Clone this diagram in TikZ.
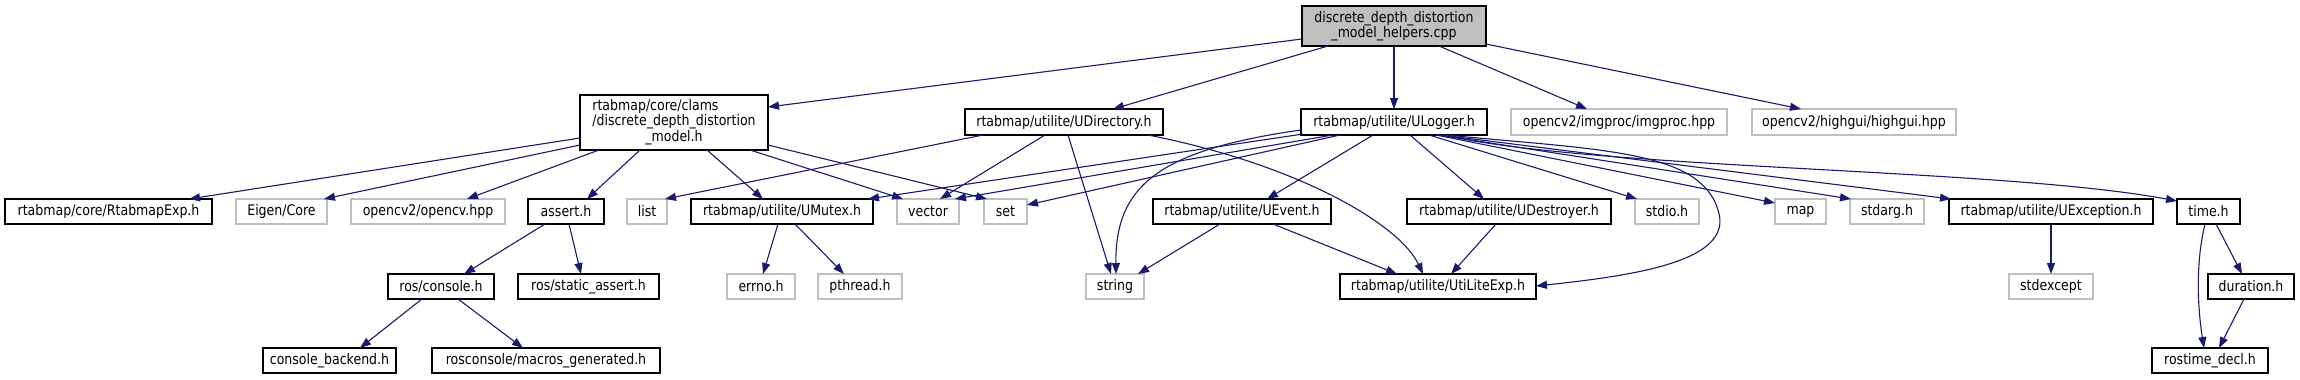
\documentclass[tikz,border=0pt]{standalone}
\usepackage{fontspec}
\newfontfamily\dfont{DejaVu Sans}[FakeStretch=0.86]
\usetikzlibrary{arrows.meta,calc}
\definecolor{navy}{HTML}{191970}
\definecolor{gry}{HTML}{BFBFBF}
\tikzset{
  box/.style={anchor=north west, draw=black, fill=white, line width=1.2pt, inner sep=0pt, outer sep=0pt,
    font=\dfont\fontsize{14.6}{15}\selectfont, text=black, align=center},
  ext/.style={box, draw=gry},
  dep/.style={draw=navy, line width=1.1pt, -{Triangle[length=11pt,width=8pt]}}
}
\begin{document}
\begin{tikzpicture}[x=1pt,y=-1pt]
\useasboundingbox[fill=white] (0,0) rectangle (2300,380);
% top
\node[box, fill=gry, minimum width=184pt, minimum height=40pt] (T) at (1302,6) {discrete\_depth\_distortion\\\_model\_helpers.cpp};
% row 1
\node[box, minimum width=188pt, minimum height=55pt, align=none] (C) at (580,95) {\begin{tabular}{@{}l@{}}rtabmap/core/clams\\/discrete\_depth\_distortion\\\multicolumn{1}{@{}c@{}}{\_model.h}\end{tabular}};
\node[box, minimum width=198pt, minimum height=26pt] (D) at (965,109) {rtabmap/utilite/UDirectory.h};
\node[box, minimum width=186pt, minimum height=26pt] (L) at (1301,109) {rtabmap/utilite/ULogger.h};
\node[ext, minimum width=216pt, minimum height=26pt] (IP) at (1511,109) {opencv2/imgproc/imgproc.hpp};
\node[ext, minimum width=204pt, minimum height=26pt] (HG) at (1752,109) {opencv2/highgui/highgui.hpp};
% row 2
\node[box, minimum width=207pt, minimum height=25pt] (RE) at (5,199) {rtabmap/core/RtabmapExp.h};
\node[ext, minimum width=91pt, minimum height=25pt] (EC) at (236,199) {Eigen/Core};
\node[ext, minimum width=154pt, minimum height=25pt] (OC) at (351,199) {opencv2/opencv.hpp};
\node[box, minimum width=76pt, minimum height=25pt] (AS) at (528,199) {assert.h};
\node[ext, minimum width=40pt, minimum height=25pt] (LI) at (627,199) {list};
\node[box, minimum width=182pt, minimum height=25pt] (UM) at (691,199) {rtabmap/utilite/UMutex.h};
\node[ext, minimum width=62pt, minimum height=25pt] (VE) at (897,199) {vector};
\node[ext, minimum width=43pt, minimum height=25pt] (SE) at (984,199) {set};
\node[box, minimum width=178pt, minimum height=25pt] (UE) at (1153,199) {rtabmap/utilite/UEvent.h};
\node[box, minimum width=204pt, minimum height=25pt] (UD) at (1407,199) {rtabmap/utilite/UDestroyer.h};
\node[ext, minimum width=64pt, minimum height=25pt] (SI) at (1635,199) {stdio.h};
\node[ext, minimum width=51pt, minimum height=25pt] (MA) at (1775,199) {map};
\node[ext, minimum width=74pt, minimum height=25pt] (SA) at (1850,199) {stdarg.h};
\node[box, minimum width=204pt, minimum height=25pt] (UX) at (1949,199) {rtabmap/utilite/UException.h};
\node[box, minimum width=63pt, minimum height=25pt] (TI) at (2177,199) {time.h};
% row 3
\node[box, minimum width=106pt, minimum height=25pt] (RC) at (388,274) {ros/console.h};
\node[box, minimum width=141pt, minimum height=25pt] (RS) at (518,274) {ros/static\_assert.h};
\node[ext, minimum width=68pt, minimum height=25pt] (ER) at (727,274) {errno.h};
\node[ext, minimum width=84pt, minimum height=25pt] (PT) at (818,274) {pthread.h};
\node[ext, minimum width=58pt, minimum height=25pt] (ST) at (1086,274) {string};
\node[box, minimum width=196pt, minimum height=25pt] (UL) at (1340,274) {rtabmap/utilite/UtiLiteExp.h};
\node[ext, minimum width=84pt, minimum height=25pt] (SX) at (2009,274) {stdexcept};
\node[box, minimum width=86pt, minimum height=25pt] (DU) at (2208,274) {duration.h};
% row 4
\node[box, minimum width=133pt, minimum height=25pt] (CB) at (263,348) {console\_backend.h};
\node[box, minimum width=228pt, minimum height=25pt] (MG) at (432,348) {rosconsole/macros\_generated.h};
\node[box, minimum width=116pt, minimum height=25pt] (RT) at (2152,348) {rostime\_decl.h};
% edges from T
\draw[dep] ($(T.north west)+(0,33)$) -- ($(C.north west)+(188,12)$);
\draw[dep] ($(T.north west)+(26,40)$) -- ($(D.north west)+(148,0)$);
\draw[dep] ($(T.north west)+(92,40)$) -- ($(L.north west)+(93,0)$);
\draw[dep] ($(T.north west)+(137,40)$) -- ($(IP.north west)+(76,0)$);
\draw[dep] ($(T.north west)+(184,38)$) -- ($(HG.north west)+(49,0)$);
% edges from C
\draw[dep] ($(C.north west)+(0,43)$) -- ($(RE.north west)+(184,0)$);
\draw[dep] ($(C.north west)+(0,50)$) -- ($(EC.north west)+(88,0)$);
\draw[dep] ($(C.north west)+(19,55)$) -- ($(OC.north west)+(116,0)$);
\draw[dep] ($(C.north west)+(60,55)$) -- ($(AS.north west)+(59,0)$);
\draw[dep] ($(C.north west)+(127,55)$) -- ($(UM.north west)+(72,0)$);
\draw[dep] ($(C.north west)+(170,55)$) -- ($(VE.north west)+(6,0)$);
\draw[dep] ($(C.north west)+(188,50)$) -- ($(SE.north west)+(3,0)$);
% edges from D
\draw[dep] ($(D.north west)+(18,26)$) -- ($(LI.north west)+(38,0)$);
\draw[dep] ($(D.north west)+(80,26)$) -- ($(VE.north west)+(43,0)$);
\draw[dep] ($(D.north west)+(103,26)$) -- ($(ST.north west)+(25,0)$);
\draw[dep] ($(D.north west)+(183,26)$) .. controls (1300,165) and (1400,225) .. ($(UL.north west)+(83,0)$);
% edges from L
\draw[dep] ($(L.north west)+(2,25)$) -- ($(UM.north west)+(177,0)$);
\draw[dep] ($(L.north west)+(32,26)$) -- ($(VE.north west)+(58,0)$);
\draw[dep] ($(L.north west)+(39,26)$) -- ($(SE.north west)+(43,6)$);
\draw[dep] ($(L.north west)+(0,21)$) .. controls (1160,150) and (1115,185) .. ($(ST.north west)+(30,0)$);
\draw[dep] ($(L.north west)+(72,26)$) -- ($(UE.north west)+(114,0)$);
\draw[dep] ($(L.north west)+(109,26)$) -- ($(UD.north west)+(77,0)$);
\draw[dep] ($(L.north west)+(128,26)$) -- ($(SI.north west)+(2,0)$);
\draw[dep] ($(L.north west)+(135,26)$) -- ($(MA.north west)+(0,4)$);
\draw[dep] ($(L.north west)+(138,26)$) -- ($(SA.north west)+(1,0)$);
\draw[dep] ($(L.north west)+(140,26)$) -- ($(UX.north west)+(2,0)$);
\draw[dep] ($(L.north west)+(142,26)$) .. controls (1600,170) and (2000,168) .. ($(TI.north west)+(0,2)$);
\draw[dep] ($(L.north west)+(145,26)$) .. controls (1600,150) and (1700,150) .. (1718,210) .. controls (1735,260) and (1640,275) .. ($(UL.north west)+(196,12)$);
% row 2 to row 3
\draw[dep] ($(UE.north west)+(67,25)$) -- ($(ST.north west)+(52,0)$);
\draw[dep] ($(UE.north west)+(120,25)$) -- ($(UL.north west)+(57,0)$);
\draw[dep] ($(UD.north west)+(89,25)$) -- ($(UL.north west)+(111,0)$);
\draw[dep] ($(UM.north west)+(87,25)$) -- ($(ER.north west)+(36,0)$);
\draw[dep] ($(UM.north west)+(104,25)$) -- ($(PT.north west)+(26,0)$);
\draw[dep] ($(AS.north west)+(17,25)$) -- ($(RC.north west)+(76,0)$);
\draw[dep] ($(AS.north west)+(41,25)$) -- ($(RS.north west)+(63,0)$);
\draw[dep] ($(UX.north west)+(102,25)$) -- ($(SX.north west)+(42,0)$);
\draw[dep] ($(TI.north west)+(39,25)$) -- ($(DU.north west)+(34,0)$);
\draw[dep] ($(TI.north west)+(28,25)$) .. controls (2195,265) and (2198,310) .. ($(RT.north west)+(52,0)$);
% row 3 to row 4
\draw[dep] ($(RC.north west)+(34,25)$) -- ($(CB.north west)+(97,0)$);
\draw[dep] ($(RC.north west)+(70,25)$) -- ($(MG.north west)+(91,0)$);
\draw[dep] ($(DU.north west)+(36,25)$) -- ($(RT.north west)+(67,0)$);
\end{tikzpicture}
\end{document}
